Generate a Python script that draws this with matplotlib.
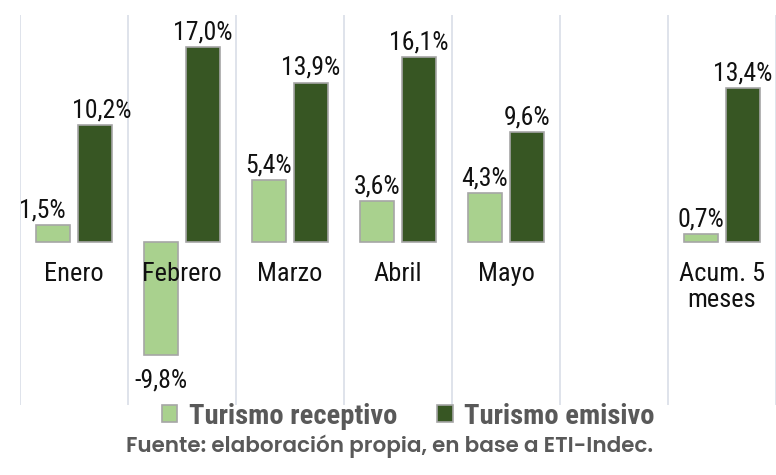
import matplotlib
matplotlib.use("Agg")
import matplotlib.pyplot as plt
from matplotlib import font_manager as fm
from matplotlib.patches import Patch
import numpy as np

categories = ["Enero", "Febrero", "Marzo", "Abril", "Mayo", "", "Acum. 5\nmeses"]
receptivo = [1.5, -9.8, 5.4, 3.6, 4.3, None, 0.7]
emisivo = [10.2, 17.0, 13.9, 16.1, 9.6, None, 13.4]
series_names = ["Turismo receptivo", "Turismo emisivo"]
source = "Fuente: elaboración propia, en base a ETI-Indec."

names = {f.name for f in fm.fontManager.ttflist}
def pick(*opts):
    for o in opts:
        if o in names:
            return o
    return "DejaVu Sans"
cond = pick("Roboto Condensed", "Barlow Semi Condensed", "Asap Condensed", "Roboto")
src_font = pick("Poppins", "Open Sans")

c_light = "#A9D18E"
c_dark = "#375623"
c_edge = "#A6A6A6"
c_grid = "#D9DEE8"
c_text = "#111111"
c_gray = "#595959"

fig = plt.figure(figsize=(7.76, 4.75), dpi=100)
ax = fig.add_axes([20/776, 70/475, 756/776, 390/475])
ax.set_xlim(-0.5, 6.5)
ax.set_ylim(-14.2, 19.8)
ax.axis("off")

for b in np.arange(-0.5, 7.0, 1.0):
    ax.axvline(b, color=c_grid, lw=1.2, zorder=0)

w = 0.315
off = 0.195
fs = 18.5
x = np.arange(len(categories))
for i in range(len(categories)):
    if receptivo[i] is None:
        continue
    r, e = receptivo[i], emisivo[i]
    ax.bar(x[i] - off, r, w, color=c_light, edgecolor=c_edge, lw=1.2, zorder=2)
    ax.bar(x[i] + off, e, w, color=c_dark, edgecolor=c_edge, lw=1.2, zorder=2)
    lbl_r = f"{r:.1f}%".replace(".", ",")
    lbl_e = f"{e:.1f}%".replace(".", ",")
    dx_r = -8 if i == 0 else 0
    dx_e = 5 if i == 0 else 0
    if r >= 0:
        ax.annotate(lbl_r, (x[i] - off, r), xytext=(dx_r, 2), textcoords="offset points",
                    ha="center", va="bottom", fontsize=fs, family=cond, color=c_text, zorder=5)
    else:
        ax.annotate(lbl_r, (x[i] - off, r), xytext=(dx_r, -10), textcoords="offset points",
                    ha="center", va="top", fontsize=fs, family=cond, color=c_text, zorder=5)
    ax.annotate(lbl_e, (x[i] + off, e), xytext=(dx_e, 2), textcoords="offset points",
                ha="center", va="bottom", fontsize=fs, family=cond, color=c_text, zorder=5)

for i, c in enumerate(categories):
    if c:
        ax.annotate(c, (x[i], 0), xytext=(0, -14), textcoords="offset points",
                    ha="center", va="top", fontsize=19, family=cond, color=c_text,
                    zorder=5, linespacing=1.15)

handles = [Patch(facecolor=c_light, edgecolor=c_edge, lw=1.2),
           Patch(facecolor=c_dark, edgecolor=c_edge, lw=1.2)]
leg = fig.legend(handles, series_names, loc="center", bbox_to_anchor=(408/776, 1 - 416/475),
                 ncol=2, frameon=False, handlelength=0.55, handleheight=0.55,
                 handletextpad=0.4, columnspacing=1.4, borderpad=0,
                 prop={"family": cond, "weight": "bold", "size": 20.5})
for t in leg.get_texts():
    t.set_color(c_gray)

fig.text(390/776, 1 - 446/475, source, ha="center", va="center",
         fontsize=15.5, family=src_font, weight="semibold", color=c_gray)

fig.savefig("out.png", dpi=100)
